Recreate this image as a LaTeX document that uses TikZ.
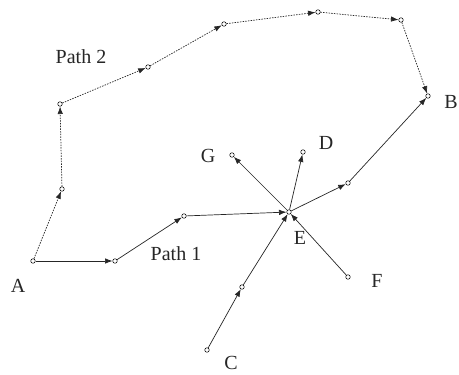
\documentclass[tikz,border=0pt]{standalone}
\usepackage{fontspec}
\setmainfont{Liberation Serif}
\usetikzlibrary{arrows.meta}

\begin{document}
\begin{tikzpicture}[x=1pt,y=-1pt,
    pt/.style={circle,draw,fill=white,inner sep=0pt,minimum size=4.5pt,line width=0.5pt},
    arr/.style={-{Latex[length=7.5pt,width=5.5pt]},line width=0.7pt,draw=black!85},
    dotarr/.style={arr,dash pattern=on 1.5pt off 1.2pt},
    lbl/.style={font=\fontsize{20}{24}\selectfont,text=black!85}]
    \useasboundingbox (0,0) rectangle (459,375);
    % points
    \node[pt] (A) at (33,261) {};
    \node[pt] (a1) at (115,261) {};
    \node[pt] (a2) at (184,216) {};
    \node[pt] (E) at (289,212) {};
    \node[pt] (e1) at (348,183) {};
    \node[pt] (B) at (428,96) {};
    \node[pt] (C) at (207,350) {};
    \node[pt] (c1) at (242,287) {};
    \node[pt] (D) at (303,152) {};
    \node[pt] (F) at (348,277) {};
    \node[pt] (G) at (232,155) {};
    \node[pt] (b1) at (62,189) {};
    \node[pt] (b2) at (60,104) {};
    \node[pt] (b3) at (148,67) {};
    \node[pt] (b4) at (224,24) {};
    \node[pt] (b5) at (318,12) {};
    \node[pt] (b6) at (401,20) {};
    % path 1 and the star at E
    \draw[arr] (A) -- (a1);
    \draw[arr] (a1) -- (a2);
    \draw[arr] (a2) -- (E);
    \draw[arr] (E) -- (e1);
    \draw[arr] (e1) -- (B);
    \draw[arr] (C) -- (c1);
    \draw[arr] (c1) -- (E);
    \draw[arr] (F) -- (E);
    \draw[arr] (E) -- (G);
    \draw[arr] (E) -- (D);
    % path 2
    \draw[dotarr] (A) -- (b1);
    \draw[dotarr] (b1) -- (b2);
    \draw[dotarr] (b2) -- (b3);
    \draw[dotarr] (b3) -- (b4);
    \draw[dotarr] (b4) -- (b5);
    \draw[dotarr] (b5) -- (b6);
    \draw[dotarr] (b6) -- (B);
    % labels
    \node[lbl] (lA) at (18,286) {A};
    \node[lbl] (lB) at (451,102) {B};
    \node[lbl] (lC) at (231,363) {C};
    \node[lbl] (lD) at (326,143) {D};
    \node[lbl] (lE) at (300,238) {E};
    \node[lbl] (lF) at (377,281) {F};
    \node[lbl] (lG) at (208,156) {G};
    \node[lbl] (lp1) at (176,254) {Path 1};
    \node[lbl] (lp2) at (81,57) {Path 2};
\end{tikzpicture}
\end{document}
